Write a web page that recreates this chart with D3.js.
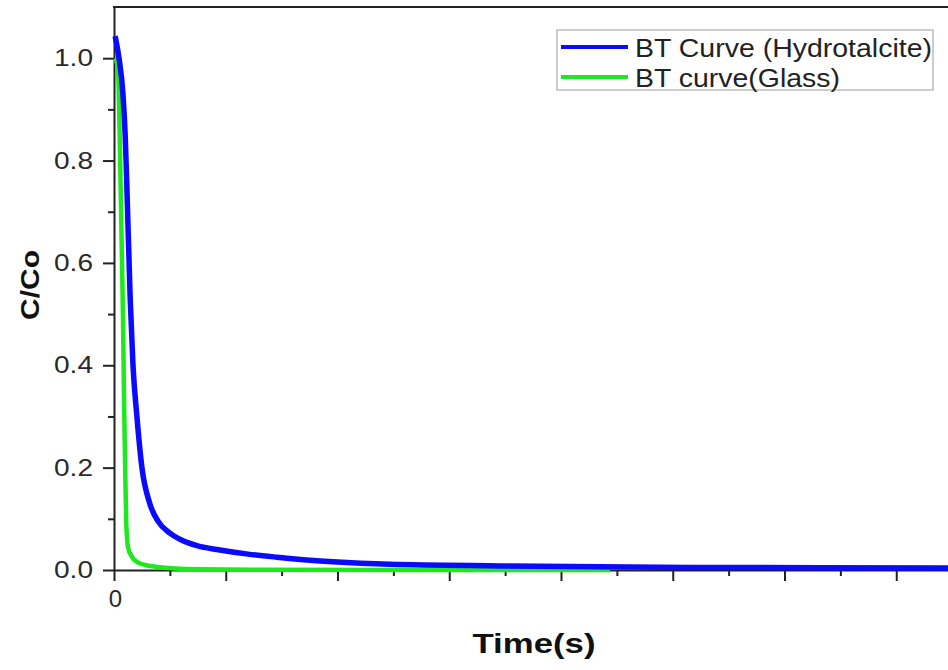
<!DOCTYPE html>
<html>
<head>
  <meta charset="utf-8">
  <title>BT curves</title>
  <script src="https://d3js.org/d3.v7.min.js"></script>
  <style>
    html, body { margin: 0; padding: 0; background: #fff; }
    svg { display: block; font-family: "Liberation Sans", Arial, sans-serif; }
    .axis path, .axis line { stroke: #222; stroke-width: 2px; }
    .axis text { fill: #2a2a2a; font-size: 24px; }
  </style>
</head>
<body>
<script>
// data (time in s, C/Co)
var blueT = [2, 9, 16, 20, 23, 29, 34, 41, 50, 64, 79, 100, 118, 150, 184, 240, 292, 392, 494, 691, 1049, 1493, 1600];
var blueC = [1.043, 1.00, 0.93, 0.85, 0.75, 0.53, 0.40, 0.30, 0.20, 0.13, 0.095, 0.072, 0.060, 0.047, 0.040, 0.031, 0.025, 0.016, 0.011, 0.008, 0.005, 0.004, 0.0035];
var greenT = [2, 7, 11, 14, 16, 18, 20, 22, 25, 32, 41, 55, 77, 110, 150, 250, 888];
var greenC = [1.00, 0.98, 0.80, 0.62, 0.50, 0.33, 0.20, 0.09, 0.045, 0.026, 0.016, 0.010, 0.006, 0.003, 0.0015, 0.0005, 0.0];
var yTicks = [0, 0.2, 0.4, 0.6, 0.8, 1.0];
var yMinor = [0.1, 0.3, 0.5, 0.7, 0.9];
var xTicks = [0, 200, 400, 600, 800, 1000, 1200, 1400, 1600];
var xMinor = [100, 300, 500, 700, 900, 1100, 1300, 1500];
var legendLabels = ["BT Curve (Hydrotalcite)", "BT curve(Glass)"];
var colors = ["#0a0aff", "#1ee81e"];

var W = 948, H = 670;
var mLeft = 114, mTop = 7, mBottom = 570, mRight = 1008;

var svg = d3.select("body").append("svg")
  .attr("width", W)
  .attr("height", H);

var x = d3.scaleLinear().domain([0, 1600]).range([mLeft, mRight]);
var y = d3.scaleLinear().domain([0, 1.1]).range([mBottom, mTop]);

// minor ticks
svg.append("g").attr("class", "axis")
  .attr("transform", "translate(0," + mBottom + ")")
  .call(d3.axisBottom(x).tickValues(xMinor).tickSize(6).tickFormat(""))
  .select(".domain").remove();
svg.append("g").attr("class", "axis")
  .attr("transform", "translate(" + mLeft + ",0)")
  .call(d3.axisLeft(y).tickValues(yMinor).tickSize(6).tickFormat(""))
  .select(".domain").remove();

// major axes
var gx = svg.append("g").attr("class", "axis")
  .attr("transform", "translate(0," + mBottom + ")")
  .call(d3.axisBottom(x).tickValues(xTicks).tickSize(11).tickSizeOuter(0).tickPadding(9)
    .tickFormat(function (d) { return d === 0 ? "0" : ""; }));

var gy = svg.append("g").attr("class", "axis")
  .attr("transform", "translate(" + mLeft + ",0)")
  .call(d3.axisLeft(y).tickValues(yTicks).tickSize(11).tickSizeOuter(0).tickPadding(10)
    .tickFormat(d3.format(".1f")));
gy.selectAll("text")
  .attr("textLength", 39)
  .attr("lengthAdjust", "spacingAndGlyphs");
gx.selectAll("text").attr("dx", 1);

// top frame
svg.append("line")
  .attr("x1", mLeft - 1).attr("x2", mRight)
  .attr("y1", mTop).attr("y2", mTop)
  .attr("stroke", "#222").attr("stroke-width", 2);

// curves
var line = d3.line()
  .x(function (d) { return x(d[0]); })
  .y(function (d) { return y(d[1]); })
  .curve(d3.curveMonotoneX);

svg.append("path")
  .datum(d3.zip(greenT, greenC))
  .attr("d", line)
  .attr("fill", "none")
  .attr("stroke", colors[1])
  .attr("stroke-width", 4.5);

svg.append("path")
  .datum(d3.zip(blueT, blueC))
  .attr("d", line)
  .attr("fill", "none")
  .attr("stroke", colors[0])
  .attr("stroke-width", 5.5);

// legend
var lg = svg.append("g");
lg.append("rect")
  .attr("x", 557).attr("y", 30)
  .attr("width", 376).attr("height", 60)
  .attr("fill", "#fff")
  .attr("stroke", "#aaa")
  .attr("stroke-width", 1.2);

var legendW = [297, 205];
legendLabels.forEach(function (lab, i) {
  var ly = 47 + i * 30;
  lg.append("line")
    .attr("x1", 561).attr("x2", 628)
    .attr("y1", ly).attr("y2", ly)
    .attr("stroke", colors[i])
    .attr("stroke-width", 4);
  lg.append("text")
    .attr("x", 635).attr("y", ly + 10)
    .attr("font-size", 25)
    .attr("fill", "#222")
    .attr("textLength", legendW[i])
    .attr("lengthAdjust", "spacingAndGlyphs")
    .text(lab);
});

// axis titles
svg.append("text")
  .attr("x", 534).attr("y", 653)
  .attr("text-anchor", "middle")
  .attr("font-size", 28)
  .attr("font-weight", "bold")
  .attr("fill", "#111")
  .attr("textLength", 123)
  .attr("lengthAdjust", "spacingAndGlyphs")
  .text("Time(s)");

svg.append("text")
  .attr("transform", "translate(39,285) rotate(-90)")
  .attr("text-anchor", "middle")
  .attr("font-size", 26)
  .attr("font-weight", "bold")
  .attr("fill", "#111")
  .attr("textLength", 70)
  .attr("lengthAdjust", "spacingAndGlyphs")
  .text("C/Co");
</script>
</body>
</html>
